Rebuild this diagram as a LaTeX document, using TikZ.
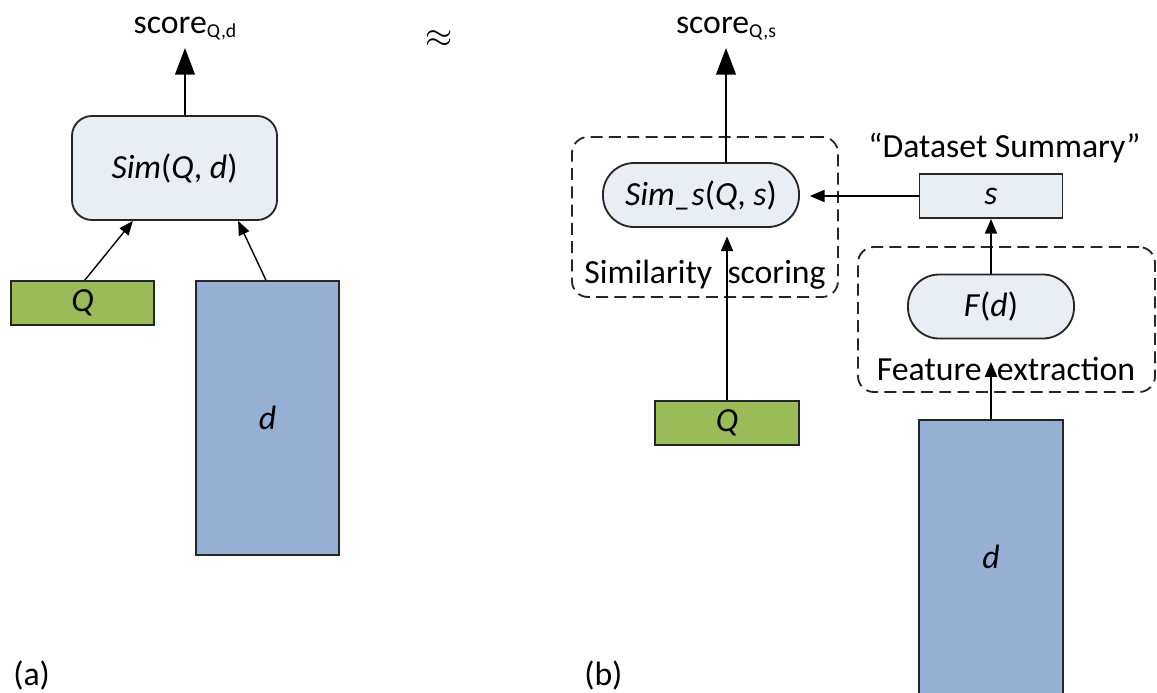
\documentclass[tikz,border=0pt]{standalone}
\usepackage{fontspec}
\setmainfont{Carlito}
\usetikzlibrary{arrows.meta,calc}
\definecolor{nodefill}{HTML}{E9EDF4}
\definecolor{qgreen}{HTML}{9BBB59}
\definecolor{dblue}{HTML}{95B0D3}
\newcommand{\subtxt}[1]{\raisebox{-3pt}{\fontsize{14}{16}\selectfont #1}}
\begin{document}
\begin{tikzpicture}[x=0.025cm,y=-0.025cm,
  txt/.style={font=\fontsize{24}{28}\selectfont, inner sep=0pt},
  boxbase/.style={draw=black!85, line width=1.3pt, inner sep=0pt, font=\fontsize{24}{28}\selectfont},
  simbox/.style={boxbase, fill=nodefill, rounded corners=0.5cm, minimum width=5.125cm, minimum height=2.6cm},
  pill/.style={boxbase, fill=nodefill, rounded corners=0.78cm, minimum height=1.6cm},
  sbox/.style={boxbase, fill=nodefill, minimum width=3.575cm, minimum height=1.1cm},
  qbox/.style={boxbase, fill=qgreen, minimum width=3.6cm, minimum height=1.1cm},
  dbox/.style={boxbase, fill=dblue, minimum width=3.6cm, minimum height=6.85cm},
  group/.style={draw=black!85, line width=1.3pt, dash pattern=on 8.5pt off 4.5pt, rounded corners=0.4cm, inner sep=0pt},
  arr/.style={line width=1.4pt, -{Triangle[length=10.5pt,width=8.5pt]}},
  thinarr/.style={line width=1pt, -{Triangle[length=10pt,width=8pt]}},
  bigarr/.style={line width=1.4pt, -{Triangle[length=19pt,width=14pt]}}
]
\useasboundingbox (0,0) rectangle (1157,692);

% ---------- (a) ----------
\node[simbox] (simL) at (174.5,168) {\textit{Sim}(\textit{Q}, \textit{d})};
\node[qbox, minimum width=3.575cm] (QL) at (82.5,303) {\textit{Q}};
\node[dbox, minimum width=3.575cm] (dL) at (267.5,418) {\textit{d}};
\node[txt, anchor=base] (scoreL) at (185,33) {score\subtxt{Q,d}};
\coordinate (scoreLtip) at (185,48);
\draw[bigarr] (simL.north -| scoreLtip) -- (scoreLtip);
\draw[thinarr] ([xshift=0.06cm]QL.north) -- ([xshift=-1.04cm]simL.south);
\draw[thinarr] ([xshift=-0.04cm]dL.north) -- ([xshift=1.59cm]simL.south);
\node[font=\fontsize{26}{30}\selectfont, inner sep=0pt] (approx) at (439,39) {$\approx$};
\node[txt, anchor=base west] (labA) at (13,685) {(a)};

% ---------- (b) ----------
\node[group, minimum width=6.65cm, minimum height=4cm] (simGroup) at (705,217) {};
\node[pill, minimum width=4.9cm] (simS) at (701,195) {\textit{Sim\_s}(\textit{Q}, \textit{s})};
\node[txt, anchor=base] (simLabel) at (705,283) {Similarity\ \ scoring};
\node[txt, anchor=base] (scoreR) at (726,33) {score\subtxt{Q,s}};
\coordinate (scoreRtip) at (726,48);

\node[sbox] (sB) at (991,196) {\textit{s}};
\node[txt, anchor=base] (dsLabel) at (1004.5,157) {“Dataset Summary”};
\node[group, minimum width=7.425cm, minimum height=3.625cm] (featGroup) at (1006.5,319.5) {};
\node[pill, minimum width=4.15cm] (FD) at (991,306.5) {\textit{F}(\textit{d})};
\node[txt, anchor=base] (featLabel) at (1006,380) {Feature\ \ extraction};

\node[qbox] (QR) at (727,423) {\textit{Q}};
\node[dbox] (dR) at (991,557) {\textit{d}};
\coordinate (featIn) at (991,362);
\node[txt, anchor=base west] (labB) at (584,685) {(b)};

\draw[bigarr] (simS.north -| scoreRtip) -- (scoreRtip);
\draw[arr, shorten >=7pt] (sB.west) -- (sB.west -| simS.east);
\draw[arr] (FD.north) -- (sB.south);
\draw[arr, shorten >=6pt] (QR.north) -- (QR.north |- simS.south);
\draw[arr] (dR.north) -- (featIn);
\end{tikzpicture}
\end{document}
